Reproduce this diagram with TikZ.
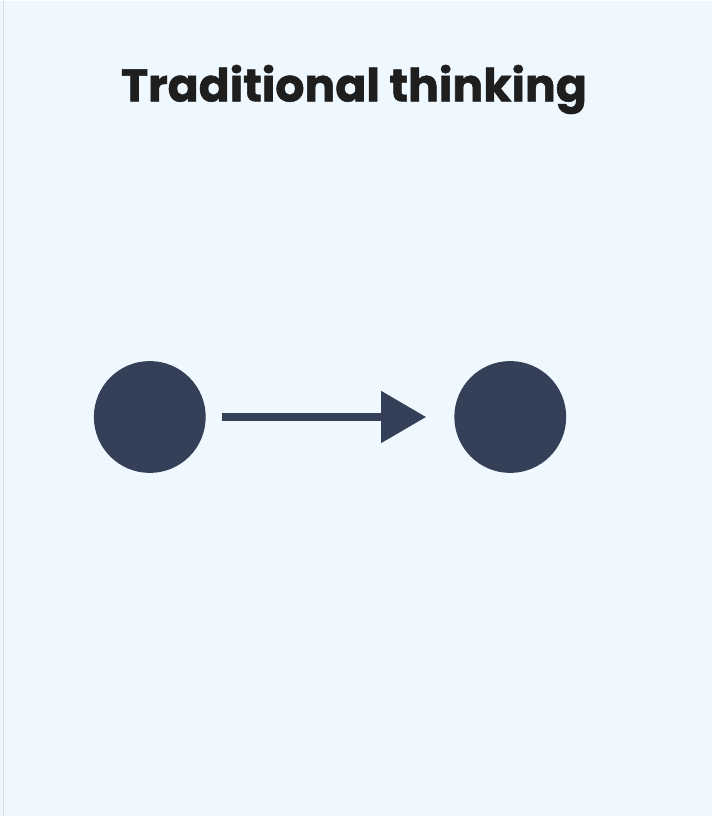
\documentclass[tikz,border=0pt]{standalone}
\usepackage{fontspec}
\setmainfont{Poppins}
\newfontfamily\titlefont[FakeBold=1.2]{Poppins}
\usetikzlibrary{arrows.meta}
\definecolor{bg}{HTML}{EEF8FE}
\definecolor{navy}{HTML}{334058}
\definecolor{ink}{HTML}{1E1E1E}
\definecolor{edge}{HTML}{D6DEE4}
\tikzset{
  dot/.style={circle, fill=navy, minimum size=112pt, inner sep=0pt},
  flow/.style={draw=navy, line width=8pt, -{Triangle[length=45pt,width=50pt]}},
  title/.style={font=\titlefont\fontsize{45.8}{55}\selectfont\bfseries, text=ink}
}
\begin{document}
\begin{tikzpicture}[x=1pt,y=-1pt]
\fill[bg] (0,0) rectangle (713,817);
\draw[edge, line width=1.2pt] (3.5,0) -- (3.5,817);
\useasboundingbox (0,0) rectangle (713,817);
\node[title, anchor=base] (t) at (354.5,101) {Traditional thinking};
\node[dot] (a) at (150,417) {};
\node[dot] (b) at (511,417) {};
\draw[flow, shorten <=16pt, shorten >=28pt] (a) -- (b);
\end{tikzpicture}
\end{document}
